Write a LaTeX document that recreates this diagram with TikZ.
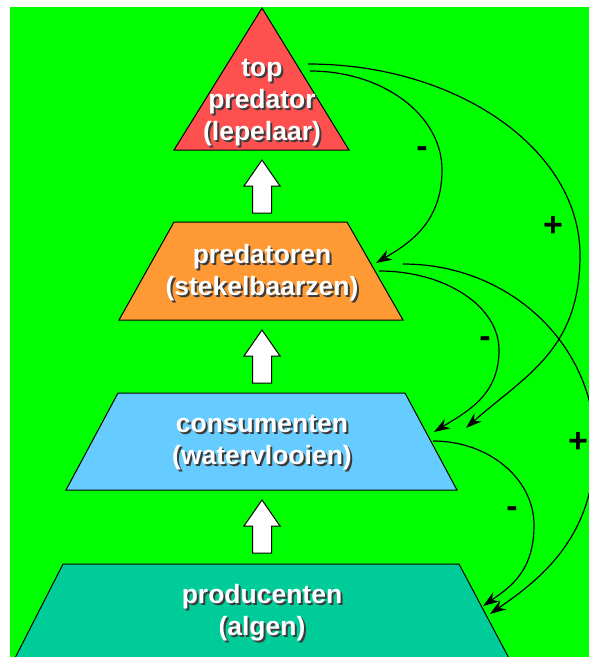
\documentclass[tikz,border=0pt]{standalone}
\usepackage{fontspec}
\setmainfont{Liberation Sans}
\usetikzlibrary{arrows.meta}
\definecolor{bggreen}{RGB}{0,255,0}
\definecolor{toprd}{RGB}{255,80,80}
\definecolor{predor}{RGB}{255,153,51}
\definecolor{consbl}{RGB}{102,204,255}
\definecolor{prodtl}{RGB}{0,204,153}
\definecolor{shadowc}{RGB}{60,60,60}
\tikzset{
  level/.style={draw=black, line width=1pt},
  lbl/.style={font=\bfseries\fontsize{26.5}{32}\selectfont, align=center, text=white, inner sep=0pt},
  lblshadow/.style={font=\bfseries\fontsize{26.5}{32}\selectfont, align=center, text=shadowc, inner sep=0pt},
  blockarrow/.style={draw=black, fill=white, line width=1pt},
  link/.style={draw=black, line width=1.2pt, -{Stealth[length=16pt,width=11pt]}},
  sign/.style={font=\bfseries\fontsize{34}{34}\selectfont, text=black, inner sep=0pt}
}
\begin{document}
\begin{tikzpicture}[x=1pt,y=-1pt]
\useasboundingbox (0,0) rectangle (589,657);
\fill[white] (0,0) rectangle (589,657);
\begin{scope}
\clip (10,7) rectangle (589,657);
\fill[bggreen] (10,7) rectangle (589,657);
% levels
\draw[level, fill=toprd] (262,8) -- (349,150) -- (174,150) -- cycle;
\draw[level, fill=predor] (174,222) -- (347,222) -- (403,320) -- (119,320) -- cycle;
\draw[level, fill=consbl] (118,393) -- (405,393) -- (457,490) -- (66,490) -- cycle;
\draw[level, fill=prodtl] (13,662) -- (63,564) -- (459,564) -- (511,662);
% block arrows
\foreach \dy in {0,170,340}{
  \draw[blockarrow, yshift=-\dy pt] (262,160) -- (280,186) -- (271.5,186) -- (271.5,213) -- (252.5,213) -- (252.5,186) -- (244,186) -- cycle;
}
% labels with shadow
\node[lblshadow] (topS) at (264,105) {top\\predator\\(lepelaar)};
\node[lbl] (top) at (262,103) {top\\predator\\(lepelaar)};
\node[lblshadow] (predS) at (264,275) {predatoren\\(stekelbaarzen)};
\node[lbl] (pred) at (262,273) {predatoren\\(stekelbaarzen)};
\node[lblshadow] (consS) at (264,445) {consumenten\\(watervlooien)};
\node[lbl] (cons) at (262,443) {consumenten\\(watervlooien)};
\node[lblshadow] (prodS) at (264,615) {producenten\\(algen)};
\node[lbl] (prod) at (262,613) {producenten\\(algen)};
% connector end points
\coordinate (topA) at (310,71);
\coordinate (topB) at (308,64);
\coordinate (predIn) at (376,263);
\coordinate (predA) at (379,271);
\coordinate (predB) at (403,264);
\coordinate (consIn1) at (434,432);
\coordinate (consIn2) at (466,428);
\coordinate (consA) at (433,441);
\coordinate (prodIn1) at (483,606);
\coordinate (prodIn2) at (490,614);
% curved links
\draw[link] (topA) .. controls (383,71) and (442,115) .. (442,170)
  .. controls (442,222) and (410,243) .. (predIn);
\draw[link] (topB) .. controls (458,64) and (580,150) .. (580,255)
  .. controls (580,350) and (526,375) .. (consIn2);
\draw[link] (predA) .. controls (445,271) and (499,306) .. (499,350)
  .. controls (499,395) and (468,411) .. (consIn1);
\draw[link] (predB) .. controls (510,264) and (595,345) .. (595,445)
  .. controls (595,538) and (539,580) .. (prodIn2);
\draw[link] (consA) .. controls (489,441) and (534,479) .. (534,525)
  .. controls (534,570) and (512,586) .. (prodIn1);
% signs
\node[sign] (s1) at (422,152) {-};
\node[sign] (s2) at (553,227) {+};
\node[sign] (s3) at (485,342) {-};
\node[sign] (s4) at (578,443) {+};
\node[sign] (s5) at (512,512) {-};
\end{scope}
\end{tikzpicture}
\end{document}
